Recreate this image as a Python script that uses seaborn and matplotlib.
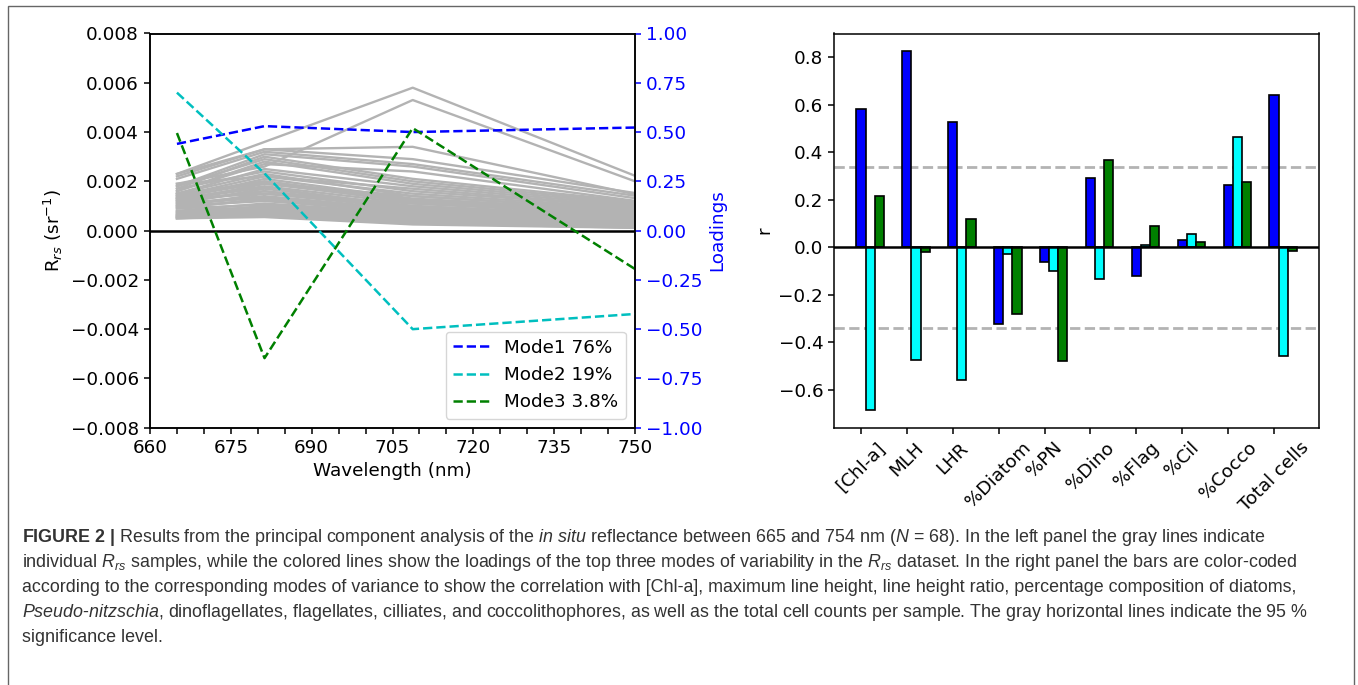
import numpy as np
import pandas as pd
import matplotlib
matplotlib.use("Agg")
import matplotlib.pyplot as plt
from matplotlib.patches import Rectangle
from matplotlib.ticker import MultipleLocator, FuncFormatter
import seaborn as sns

# ---------------- data ----------------
wavelengths = [665.0, 681.25, 708.75, 753.75]

# individual Rrs samples (sr^-1), one list per band
rrs_665 = [2.3e-3, 1.9e-3, 2.2e-3, 2.3e-3, 2.1e-3, 1.8e-3, 1.7e-3, 1.8e-3, 1.6e-3, 1.5e-3,
           1.7e-3, 1.4e-3, 1.5e-3, 1.3e-3, 1.4e-3, 1.2e-3, 1.3e-3, 1.1e-3, 1.2e-3, 1.0e-3,
           1.1e-3, 0.9e-3, 1.0e-3, 0.8e-3, 0.9e-3, 0.7e-3, 0.8e-3, 0.65e-3, 0.7e-3, 0.6e-3,
           0.55e-3, 0.6e-3, 0.5e-3, 0.55e-3, 0.5e-3, 0.5e-3, 1.6e-3, 1.9e-3, 1.5e-3, 1.3e-3,
           1.45e-3, 1.25e-3, 1.05e-3, 0.95e-3, 0.75e-3, 0.62e-3, 1.35e-3, 1.15e-3]
rrs_681 = [3.6e-3, 2.6e-3, 3.3e-3, 3.3e-3, 3.2e-3, 3.1e-3, 3.0e-3, 2.9e-3, 2.8e-3, 2.5e-3,
           2.4e-3, 2.2e-3, 2.3e-3, 2.1e-3, 2.0e-3, 1.9e-3, 1.8e-3, 1.7e-3, 1.6e-3, 1.5e-3,
           1.4e-3, 1.3e-3, 1.2e-3, 1.1e-3, 1.05e-3, 1.0e-3, 0.95e-3, 0.9e-3, 0.85e-3, 0.8e-3,
           0.75e-3, 0.7e-3, 0.65e-3, 0.6e-3, 0.6e-3, 0.55e-3, 2.7e-3, 2.2e-3, 1.9e-3, 1.5e-3,
           2.0e-3, 1.75e-3, 1.35e-3, 1.25e-3, 0.9e-3, 0.8e-3, 1.95e-3, 1.6e-3]
rrs_709 = [5.8e-3, 5.3e-3, 3.4e-3, 2.9e-3, 2.7e-3, 2.6e-3, 2.1e-3, 2.0e-3, 1.9e-3, 1.8e-3,
           1.6e-3, 1.5e-3, 1.4e-3, 1.3e-3, 1.2e-3, 1.2e-3, 1.1e-3, 1.0e-3, 1.0e-3, 0.9e-3,
           0.85e-3, 0.8e-3, 0.75e-3, 0.7e-3, 0.65e-3, 0.6e-3, 0.55e-3, 0.5e-3, 0.5e-3, 0.45e-3,
           0.4e-3, 0.4e-3, 0.35e-3, 0.3e-3, 0.3e-3, 0.25e-3, 2.4e-3, 1.7e-3, 1.4e-3, 1.1e-3,
           1.25e-3, 0.95e-3, 0.8e-3, 0.7e-3, 0.45e-3, 0.35e-3, 1.15e-3, 0.9e-3]
rrs_754 = [1.9e-3, 1.7e-3, 1.3e-3, 1.4e-3, 1.3e-3, 1.2e-3, 1.1e-3, 1.05e-3, 1.0e-3, 0.95e-3,
           0.9e-3, 0.85e-3, 0.8e-3, 0.75e-3, 0.7e-3, 0.65e-3, 0.6e-3, 0.55e-3, 0.55e-3, 0.5e-3,
           0.45e-3, 0.45e-3, 0.4e-3, 0.4e-3, 0.35e-3, 0.35e-3, 0.3e-3, 0.25e-3, 0.25e-3, 0.2e-3,
           0.2e-3, 0.15e-3, 0.15e-3, 0.12e-3, 0.1e-3, 0.1e-3, 1.1e-3, 0.9e-3, 0.8e-3, 0.7e-3,
           0.75e-3, 0.6e-3, 0.5e-3, 0.45e-3, 0.3e-3, 0.2e-3, 0.65e-3, 0.55e-3]

# PCA loadings
mode_labels = ["Mode1 76%", "Mode2 19%", "Mode3 3.8%"]
mode1 = [0.44, 0.53, 0.50, 0.525]
mode2 = [0.70, 0.29, -0.50, -0.416]
mode3 = [0.495, -0.647, 0.52, -0.26]

# correlations
categories = ["[Chl-a]", "MLH", "LHR", "%Diatom", "%PN", "%Dino", "%Flag", "%Cil", "%Cocco", "Total cells"]
r_mode1 = [0.584, 0.826, 0.526, -0.325, -0.062, 0.293, -0.121, 0.030, 0.262, 0.641]
r_mode2 = [-0.685, -0.477, -0.561, -0.028, -0.100, -0.136, 0.010, 0.055, 0.463, -0.457]
r_mode3 = [0.217, -0.020, 0.118, -0.283, -0.480, 0.368, 0.089, 0.020, 0.274, -0.017]
sig_level = 0.34

# ---------------- style ----------------
FS = 13.2
plt.rcParams.update({
    "font.family": ["DejaVu Sans"],
    "font.size": FS,
    "axes.linewidth": 1.1,
    "xtick.major.width": 1.1,
    "ytick.major.width": 1.1,
    "xtick.minor.width": 1.1,
    "xtick.major.size": 4.5,
    "ytick.major.size": 4.5,
    "xtick.minor.size": 4.5,
    "mathtext.rm": "Liberation Sans",
    "mathtext.it": "Liberation Sans:italic",
    "mathtext.bf": "Liberation Sans:bold",
})

W, H = 1358, 685
fig = plt.figure(figsize=(W / 100, H / 100), dpi=100)

def box(l, t, r, b):
    return [l / W, 1 - b / H, (r - l) / W, (b - t) / H]

# ---------------- left panel ----------------
ax1 = fig.add_axes(box(150, 33.5, 635, 427.7))
n = len(rrs_665)
df_rrs = pd.DataFrame({
    "sample": np.repeat(np.arange(n), 4),
    "wavelength": np.tile(wavelengths, n),
    "rrs": np.column_stack([rrs_665, rrs_681, rrs_709, rrs_754]).ravel(),
})
sns.lineplot(data=df_rrs, x="wavelength", y="rrs", units="sample", estimator=None,
             color="#b3b3b3", lw=1.7, ax=ax1, legend=False, sort=False)
ax1.axhline(0, color="black", lw=1.8, zorder=3)
ax1.set_xlim(660, 750)
ax1.set_ylim(-0.008, 0.008)
ax1.xaxis.set_major_locator(MultipleLocator(15))
ax1.xaxis.set_minor_locator(MultipleLocator(5))
ax1.yaxis.set_major_locator(MultipleLocator(0.002))
ax1.set_xlabel("Wavelength (nm)")
ax1.set_ylabel(r"R$_{rs}$ (sr$^{-1}$)")

ax2 = ax1.twinx()
for vals, col, lab in zip([mode1, mode2, mode3], ["#0000ff", "#00bfbf", "#008000"], mode_labels):
    sns.lineplot(x=wavelengths, y=vals, ax=ax2, color=col, lw=1.8, linestyle="--", label=lab)
ax2.set_ylim(-1, 1)
ax2.yaxis.set_major_locator(MultipleLocator(0.25))
ax2.yaxis.set_major_formatter(FuncFormatter(lambda v, p: f"{v:.2f}".replace("-", "\u2212")))
ax2.tick_params(axis="y", colors="blue")
ax2.set_ylabel("Loadings", color="blue")
h, l = ax2.get_legend_handles_labels()
ax2.legend(h, l, loc="lower right", fontsize=13.2)

# ---------------- right panel ----------------
ax3 = fig.add_axes(box(834.3, 33.5, 1319, 427.7))
df_r = pd.DataFrame({
    "category": categories * 3,
    "mode": ["Mode1"] * len(categories) + ["Mode2"] * len(categories) + ["Mode3"] * len(categories),
    "r": r_mode1 + r_mode2 + r_mode3,
})
sns.barplot(data=df_r, x="category", y="r", hue="mode",
            palette=["#0000ff", "#00ffff", "#008000"], saturation=1,
            edgecolor="black", linewidth=1.2, width=0.6, dodge=True,
            legend=False, ax=ax3, zorder=2)
ax3.axhline(0, color="black", lw=1.8, zorder=3)
ax3.axhline(sig_level, color="#b3b3b3", lw=2, ls="--", zorder=1)
ax3.axhline(-sig_level, color="#b3b3b3", lw=2, ls="--", zorder=1)
pos = np.arange(len(categories)) - 0.2
ax3.set_xticks(pos)
ax3.set_xticklabels(categories, rotation=45, ha="center")
ax3.set_xlim(pos[0] - 0.58, pos[-1] + 0.98)
ax3.set_ylim(-0.761, 0.901)
ax3.yaxis.set_major_locator(MultipleLocator(0.2))
ax3.set_xlabel("")
ax3.set_ylabel("r")

# ---------------- frame & caption ----------------
fig.patches.append(Rectangle((8 / W, -0.02), (1354 - 8) / W, 1.02 - 6 / H,
                             transform=fig.transFigure, fill=False,
                             edgecolor="#666666", lw=1.0))

caption = [
    r"$\bf{FIGURE\ 2\ |}$ Results from the principal component analysis of the $\it{in\ situ}$ reflectance between 665 and 754 nm ($\it{N}$ = 68). In the left panel the gray lines indicate",
    r"individual $\it{R_{rs}}$ samples, while the colored lines show the loadings of the top three modes of variability in the $\it{R_{rs}}$ dataset. In the right panel the bars are color-coded",
    r"according to the corresponding modes of variance to show the correlation with [Chl-a], maximum line height, line height ratio, percentage composition of diatoms,",
    r"$\it{Pseudo}$-$\it{nitzschia}$, dinoflagellates, flagellates, cilliates, and coccolithophores, as well as the total cell counts per sample. The gray horizontal lines indicate the 95 %",
    r"significance level.",
]
base_y = [542.5, 567.3, 592.0, 616.7, 641.5]
for txt, yb in zip(caption, base_y):
    fig.text(22 / W, 1 - yb / H, txt, family="Liberation Sans", fontsize=12.9,
             color="#333333", va="baseline", ha="left", math_fontfamily="custom")

fig.savefig("out.png", dpi=100)
